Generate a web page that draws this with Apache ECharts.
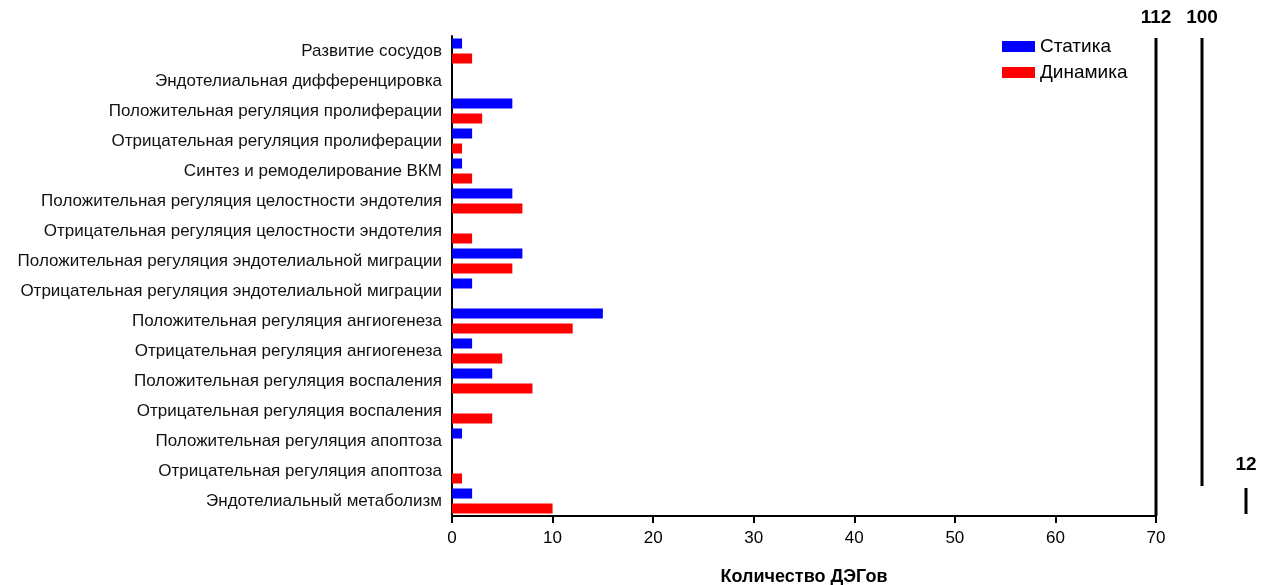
<!DOCTYPE html>
<html><head><meta charset="utf-8">
<script src="https://cdn.jsdelivr.net/npm/echarts@6/dist/echarts.min.js"></script>
<style>html,body{margin:0;padding:0;background:#fff}#c{width:1275px;height:585px}</style>
</head><body><div id="c"></div>
<script>
const categories = [
  'Развитие сосудов',
  'Эндотелиальная дифференцировка',
  'Положительная регуляция пролиферации',
  'Отрицательная регуляция пролиферации',
  'Синтез и ремоделирование ВКМ',
  'Положительная регуляция целостности эндотелия',
  'Отрицательная регуляция целостности эндотелия',
  'Положительная регуляция эндотелиальной миграции',
  'Отрицательная регуляция эндотелиальной миграции',
  'Положительная регуляция ангиогенеза',
  'Отрицательная регуляция ангиогенеза',
  'Положительная регуляция воспаления',
  'Отрицательная регуляция воспаления',
  'Положительная регуляция апоптоза',
  'Отрицательная регуляция апоптоза',
  'Эндотелиальный метаболизм'
];
const staticValues  = [1, 0, 6, 2, 1, 6, 0, 7, 2, 15, 2, 4, 0, 1, 0, 2];
const dynamicValues = [2, 0, 3, 1, 2, 7, 2, 6, 0, 12, 5, 8, 4, 0, 1, 10];
const xTicks = [0, 10, 20, 30, 40, 50, 60, 70];
const seriesNames = ['Статика', 'Динамика'];
const totals = [112, 100, 12];

const G = {left: 452, right: 119, top: 36, bottom: 69};
const chart = echarts.init(document.getElementById('c'));
const font = 'Liberation Sans, Arial, sans-serif';

chart.setOption({
  animation: false,
  grid: {left: G.left, right: G.right, top: G.top, bottom: G.bottom, containLabel: false, outerBoundsMode: 'none'},
  legend: {
    orient: 'vertical', left: 997, top: 32, itemWidth: 33, itemHeight: 11, itemGap: 7,
    icon: 'rect',
    textStyle: {fontFamily: font, fontSize: 19, color: '#000'},
    data: seriesNames
  },
  xAxis: {
    type: 'value', min: 0, max: 70, interval: 10,
    name: 'Количество ДЭГов', nameLocation: 'middle', nameGap: 52,
    nameTextStyle: {fontFamily: font, fontSize: 18, fontWeight: 'bold', color: '#000'},
    axisLine: {show: true, lineStyle: {color: '#000', width: 2}},
    axisTick: {show: true, length: 7, lineStyle: {color: '#000', width: 2}},
    axisLabel: {fontFamily: font, fontSize: 17, color: '#000', margin: 14,
      formatter: v => xTicks.includes(v) ? String(v) : ''},
    splitLine: {show: false}
  },
  yAxis: {
    type: 'category', inverse: true, data: categories,
    axisLine: {show: true, lineStyle: {color: '#000', width: 2}},
    axisTick: {show: false},
    axisLabel: {fontFamily: font, fontSize: 17, color: '#111', margin: 10}
  },
  series: [
    {name: seriesNames[0], type: 'bar', data: staticValues, barWidth: 10, barGap: '50%',
     itemStyle: {color: '#0000ff'}},
    {name: seriesNames[1], type: 'bar', data: dynamicValues, barWidth: 10,
     itemStyle: {color: '#ff0000'}}
  ]
});

// bracket annotations
function drawBrackets() {
  const yTop = chart.convertToPixel({yAxisIndex: 0}, categories[0]) - 13;
  const yBot = chart.convertToPixel({yAxisIndex: 0}, categories[15]) + 15;
  const yMidBot = chart.convertToPixel({yAxisIndex: 0}, categories[14]) + 15;
  const x70 = chart.convertToPixel({xAxisIndex: 0}, 70);
  const xs = [x70, x70 + 46, x70 + 90];
  const lineStyle = {stroke: '#000', lineWidth: 3};
  const labelStyle = (x, y, t) => ({type: 'text', x: x, y: y,
    style: {text: String(t), fill: '#000', font: 'bold 19px ' + font, textAlign: 'center', textVerticalAlign: 'middle'}});
  chart.setOption({graphic: [
    {type: 'line', shape: {x1: xs[0], y1: yTop, x2: xs[0], y2: yBot}, style: lineStyle},
    labelStyle(xs[0], 18, totals[0]),
    {type: 'line', shape: {x1: xs[1], y1: yTop, x2: xs[1], y2: yMidBot}, style: lineStyle},
    labelStyle(xs[1], 18, totals[1]),
    {type: 'line', shape: {x1: xs[2], y1: yMidBot + 2, x2: xs[2], y2: yBot - 2}, style: lineStyle},
    labelStyle(xs[2], 465, totals[2])
  ]});
}
drawBrackets();
</script></body></html>
